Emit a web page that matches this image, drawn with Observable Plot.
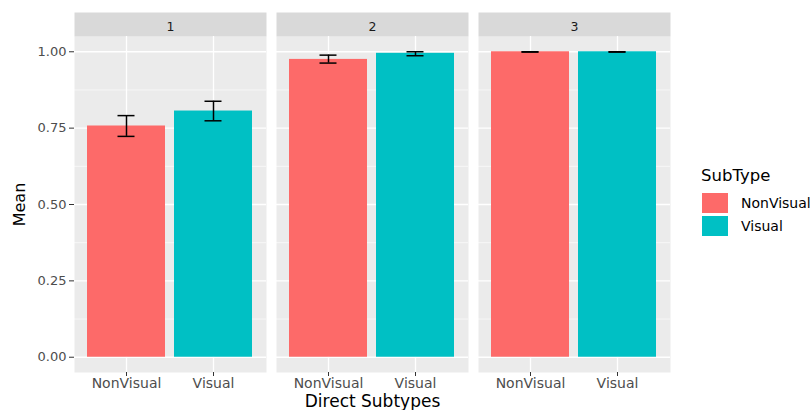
<!DOCTYPE html>
<html>
<head>
<meta charset="utf-8">
<script src="https://cdn.jsdelivr.net/npm/d3@7"></script>
<script src="https://cdn.jsdelivr.net/npm/@observablehq/plot@0.6"></script>
<style>
  html, body { margin: 0; padding: 0; background: #fff; }
  #wrap { position: relative; width: 811px; height: 410px; font-family: "DejaVu Sans", sans-serif; }
  #legend { position: absolute; left: 701px; top: 166px; color: #000; }
  #legend .title { font-size: 16.5px; height: 25px; line-height: 20px; }
  #legend .row { display: flex; align-items: center; height: 23.5px; }
  #legend .key { width: 28px; height: 22px; box-sizing: border-box; border: 1px solid #fff; }
  #legend .lab { font-size: 14px; margin-left: 12px; }
</style>
</head>
<body>
<div id="wrap"><div id="chart"></div><div id="legend"></div></div>
<script>
const facets = ["1", "2", "3"];
const subtypes = ["NonVisual", "Visual"];
const colors = ["#FD6A69", "#00C0C4"];
// per facet: [NonVisual, Visual]
const means = [[0.757, 0.806], [0.975, 0.995], [1.0, 1.0]];
const lows  = [[0.723, 0.774], [0.963, 0.987], [0.999, 0.999]];
const highs = [[0.791, 0.838], [0.989, 1.0], [1.0, 1.0]];
const yTicks = [0, 0.25, 0.5, 0.75, 1.0];
const yMinor = [0.125, 0.375, 0.625, 0.875];
const xTitle = "Direct Subtypes";
const yTitle = "Mean";
const legendTitle = "SubType";

const data = [];
facets.forEach((f, i) => subtypes.forEach((s, j) => {
  data.push({facet: f, sub: s, mean: means[i][j], lo: lows[i][j], hi: highs[i][j]});
}));

const H = 410, MT = 36, MB = 38;
const panelH = H - MT - MB;

const chart = Plot.plot({
  width: 811,
  height: H,
  marginLeft: 74,
  marginRight: 140,
  marginTop: MT,
  marginBottom: MB,
  style: {fontFamily: "DejaVu Sans, sans-serif", background: "transparent"},
  fx: {domain: facets, paddingInner: 10 / 203, paddingOuter: 0, label: null},
  x: {domain: subtypes, paddingInner: 0.1, paddingOuter: 0.15, label: null},
  y: {domain: [-0.05, 1.05], label: null},
  color: {domain: subtypes, range: colors},
  marks: [
    Plot.frame({fill: "#ebebeb", stroke: null}),
    Plot.frame({fill: "#d9d9d9", stroke: null, insetTop: -24, insetBottom: panelH}),
    Plot.gridY(yMinor, {stroke: "#fff", strokeOpacity: 1, strokeWidth: 0.6}),
    Plot.gridY(yTicks, {stroke: "#fff", strokeOpacity: 1, strokeWidth: 1.3}),
    Plot.gridX(subtypes, {stroke: "#fff", strokeOpacity: 1, strokeWidth: 1.3}),
    Plot.barY(data, {fx: "facet", x: "sub", y1: 0, y2: "mean", fill: "sub"}),
    Plot.ruleX(data, {fx: "facet", x: "sub", y1: "lo", y2: "hi", stroke: "#000", strokeWidth: 1.5}),
    Plot.tickY(data, {fx: "facet", x: "sub", y: "lo", stroke: "#000", strokeWidth: 1.5, insetLeft: 30.5, insetRight: 30.5}),
    Plot.tickY(data, {fx: "facet", x: "sub", y: "hi", stroke: "#000", strokeWidth: 1.5, insetLeft: 30.5, insetRight: 30.5}),
    Plot.axisY({ticks: yTicks, tickFormat: d3.format(".2f"), tickSize: 5, tickPadding: 3, fontSize: 13, color: "#4d4d4d", stroke: "#333", label: null}),
    Plot.axisX({tickSize: 4, tickPadding: 2, fontSize: 14, color: "#4d4d4d", stroke: "#333", label: null}),
    Plot.axisFx({anchor: "top", tickSize: 0, tickPadding: 6, fontSize: 12.5, color: "#1a1a1a", label: null}),
    Plot.text([xTitle], {fx: () => "2", frameAnchor: "bottom", lineAnchor: "middle", textAnchor: "middle", dy: 29, text: d => d, fontSize: 17, fill: "#000"}),
    Plot.text([yTitle], {fx: () => "1", frameAnchor: "left", lineAnchor: "middle", textAnchor: "middle", dx: -55, rotate: -90, text: d => d, fontSize: 16, fill: "#000"})
  ]
});
document.getElementById("chart").appendChild(chart);

const lg = document.getElementById("legend");
lg.innerHTML = `<div class="title">${legendTitle}</div>` +
  subtypes.map((s, i) => `<div class="row"><div class="key" style="background:${colors[i]}"></div><div class="lab">${s}</div></div>`).join("");
</script>
</body>
</html>
